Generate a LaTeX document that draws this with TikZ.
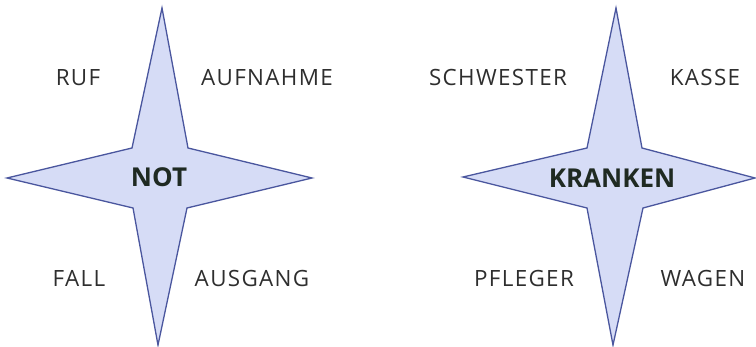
\documentclass[tikz,border=0pt]{standalone}
\usepackage{fontspec}
\setmainfont{Open Sans}
\newfontfamily\wortfont[LetterSpace=6]{Open Sans}
\usetikzlibrary{positioning}

\definecolor{sternfill}{HTML}{D6DCF6}
\definecolor{sternrand}{HTML}{4A569E}
\definecolor{worttext}{HTML}{2E2E2E}
\definecolor{kerntext}{HTML}{1F2A22}

\begin{document}
\begin{tikzpicture}[
            x=1pt, y=-1pt,
            stern/.style={fill=sternfill, draw=sternrand, line width=1.3pt, line join=miter},
            wort/.style={font=\wortfont\fontsize{22.4}{26}\selectfont, text=worttext, inner sep=0pt, anchor=base},
            kern/.style={font=\fontsize{26}{30}\selectfont\bfseries, text=kerntext, inner sep=0pt, anchor=base},
        ]
            \useasboundingbox (0,0) rectangle (756,347);

            % Left star: NOT
            \draw[stern] (162,8) -- (188,148) -- (312,178) -- (187,208) -- (158,345)
                -- (133,208) -- (7,178) -- (132,148) -- cycle;
            \node[kern] (not) at (159,187) {NOT};

            \node[wort] (ruf)      at (78,86)  {RUF};
            \node[wort] (aufnahme) at (267,86) {AUFNAHME};
            \node[wort] (fall)     at (79,287) {FALL};
            \node[wort] (ausgang)  at (252,287) {AUSGANG};

            % Right star: KRANKEN
            \draw[stern] (616,8) -- (642,148) -- (755,178) -- (643,208) -- (613,345)
                -- (587,208) -- (463,177) -- (587,148) -- cycle;
            \node[kern] (kranken) at (612,188) {KRANKEN};

            \node[wort] (schwester) at (498,86)  {SCHWESTER};
            \node[wort] (kasse)     at (705,86)  {KASSE};
            \node[wort] (pfleger)   at (524,287) {PFLEGER};
            \node[wort] (wagen)     at (703,287) {WAGEN};
        \end{tikzpicture}
\end{document}
